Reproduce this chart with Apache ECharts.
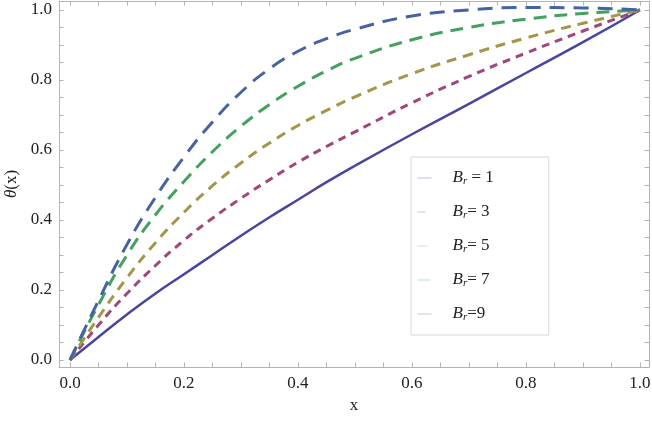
<!DOCTYPE html>
<html>
<head>
<meta charset="utf-8">
<script src="https://cdn.jsdelivr.net/npm/echarts@6/dist/echarts.min.js"></script>
<style>
  html, body { margin: 0; padding: 0; background: #fff; }
  #main { width: 652px; height: 422px; }
</style>
</head>
<body>
<div id="main"></div>
<script>
// x positions and curve values
var xs  = [0, 0.05, 0.1, 0.15, 0.2, 0.25, 0.3, 0.35, 0.4, 0.45, 0.5, 0.6, 0.7, 0.8, 0.9, 1.0];
var br1 = [0, 0.066, 0.13, 0.19, 0.245, 0.3, 0.355, 0.408, 0.458, 0.508, 0.555, 0.645, 0.732, 0.82, 0.908, 1];
var br3 = [0, 0.1, 0.19, 0.27, 0.342, 0.405, 0.462, 0.515, 0.565, 0.61, 0.652, 0.735, 0.81, 0.877, 0.94, 1];
var br5 = [0, 0.122, 0.235, 0.335, 0.422, 0.498, 0.563, 0.62, 0.67, 0.713, 0.752, 0.818, 0.872, 0.92, 0.962, 1];
var br7 = [0, 0.158, 0.3, 0.415, 0.51, 0.595, 0.668, 0.73, 0.782, 0.826, 0.862, 0.915, 0.95, 0.974, 0.99, 1];
var br9 = [0, 0.17, 0.33, 0.465, 0.58, 0.68, 0.765, 0.832, 0.882, 0.918, 0.945, 0.983, 1.0, 1.007, 1.006, 1];

var seriesNames = ['Br = 1', 'Br= 3', 'Br= 5', 'Br= 7', 'Br=9'];
var seriesData = [br1, br3, br5, br7, br9];
var colors = ['#47459f', '#a0467a', '#a49648', '#44a05e', '#4563a3'];
var dashes = ['solid', [8, 6], [10, 7], [13, 8], [15, 9]];

var majorTicks = [0, 0.2, 0.4, 0.6, 0.8, 1.0];
var minorTicks = [0, 0.05, 0.1, 0.15, 0.2, 0.25, 0.3, 0.35, 0.4, 0.45, 0.5,
                  0.55, 0.6, 0.65, 0.7, 0.75, 0.8, 0.85, 0.9, 0.95, 1.0];

var serif = '"Liberation Serif", "DejaVu Serif", serif';
var grey = '#b4b4b4';

function pairs(ys) {
  return xs.map(function (x, i) { return [x, ys[i]]; });
}

// frame axis: line + inward ticks, labels only where asked
function frameAxis(min, max, extra) {
  var base = {
    type: 'value',
    min: min,
    max: max,
    axisLine: { show: true, onZero: false, lineStyle: { color: grey, width: 1 } },
    axisTick: { show: true, inside: true, length: 4.5, customValues: minorTicks, lineStyle: { color: grey } },
    splitLine: { show: false },
    axisLabel: { show: false }
  };
  return Object.assign(base, extra);
}

var labelStyle = {
  show: true,
  customValues: majorTicks,
  fontFamily: serif,
  fontSize: 17,
  color: '#222',
  formatter: function (v) { return v.toFixed(1); }
};

var xMin = -0.0193, xMax = 1.0158;
var yMin = -0.02, yMax = 1.0257;

var chart = echarts.init(document.getElementById('main'));
chart.setOption({
  animation: false,
  color: colors,
  grid: { left: 59, right: 3, top: 1, bottom: 55, containLabel: false, outerBoundsMode: 'none' },
  legend: {
    orient: 'vertical',
    left: 411,
    top: 157,
    padding: [11, 55, 12, 6],
    itemGap: 15,
    itemWidth: 14,
    itemHeight: 14,
    borderColor: '#d8d8d8',
    borderWidth: 1,
    itemStyle: { opacity: 0 },
    lineStyle: { width: 1, opacity: 0.35 },
    data: seriesNames,
    formatter: function (name) {
      return '{sp|}{b|B}{s|r}{n|' + name.slice(2) + '}';
    },
    textStyle: {
      rich: {
        sp: { width: 16 },
        b: { fontFamily: serif, fontStyle: 'italic', fontSize: 17, color: '#222', lineHeight: 18 },
        s: { fontFamily: serif, fontStyle: 'italic', fontSize: 11, color: '#222', verticalAlign: 'bottom', padding: [8, 0, 0, 0], lineHeight: 18 },
        n: { fontFamily: serif, fontSize: 17, color: '#222', lineHeight: 18 }
      }
    }
  },
  xAxis: [
    frameAxis(xMin, xMax, {
      position: 'bottom',
      axisLabel: Object.assign({ margin: 8 }, labelStyle),
      name: 'x',
      nameLocation: 'middle',
      nameGap: 28,
      nameTextStyle: { fontFamily: serif, fontSize: 17, color: '#222' }
    }),
    frameAxis(xMin, xMax, { position: 'top' })
  ],
  yAxis: [
    frameAxis(yMin, yMax, {
      position: 'left',
      axisLabel: Object.assign({ margin: 7 }, labelStyle),
      name: '{t|θ}(x)',
      nameLocation: 'middle',
      nameRotate: 90,
      nameGap: 38,
      nameTextStyle: {
        fontFamily: serif, fontSize: 17, color: '#222',
        rich: { t: { fontFamily: serif, fontStyle: 'italic', fontSize: 17, color: '#222' } }
      }
    }),
    frameAxis(yMin, yMax, { position: 'right' })
  ],
  series: seriesNames.map(function (name, i) {
    return {
      name: name,
      type: 'line',
      smooth: true,
      showSymbol: false,
      clip: false,
      data: pairs(seriesData[i]),
      lineStyle: { color: colors[i], width: i === 0 ? 2.5 : 3, type: dashes[i] }
    };
  })
});
</script>
</body>
</html>
